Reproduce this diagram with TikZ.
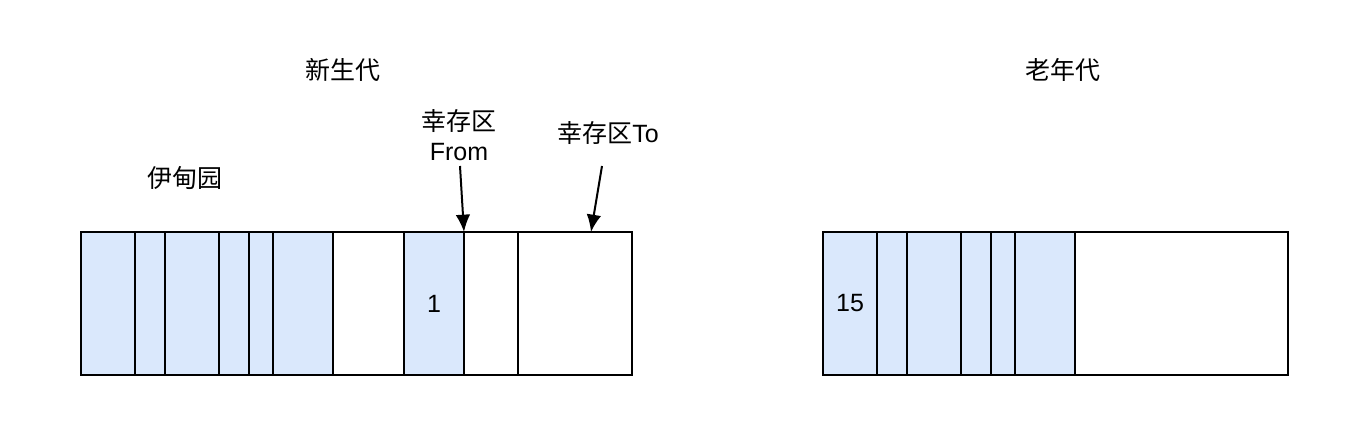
\documentclass[tikz,border=0pt]{standalone}
\usepackage{fontspec}
\setmainfont{Liberation Sans}
\newfontfamily\cjk{Noto Sans CJK SC}
\usetikzlibrary{arrows.meta}
\usetikzlibrary{positioning}

% one memory cell of the heap, from x=#2 to x=#3 (pixels)
\newcommand{\memcell}[5]{%
  \node[cell,#4,minimum width={(#3-#2)*0.75pt}] (#1) at ({(#2+#3)/2},303.5) {#5};}

\begin{document}
\begin{tikzpicture}[
	x=0.75pt, y=-0.75pt,
	> = {Latex[length=13pt,width=11pt]},
	font=\fontsize{18.75}{22.5}\selectfont,
	cell/.style = {draw, line width=1.5pt, inner sep=0pt, outer sep=0pt, minimum height=107.25pt},
	used/.style = {fill=usedblue},
	free/.style = {fill=white},
	lbl/.style = {align=center, inner sep=2pt}
	]
	\definecolor{usedblue}{HTML}{DAE8FC}
	\useasboundingbox (0,0) rectangle (1353,428);

	% young generation
	\memcell{e1}{81}{135}{used}{}
	\memcell{e2}{135}{165}{used}{}
	\memcell{e3}{165}{219}{used}{}
	\memcell{e4}{219}{249}{used}{}
	\memcell{e5}{249}{273}{used}{}
	\memcell{e6}{273}{333}{used}{}
	\memcell{e7}{333}{404}{free}{}
	\memcell{from}{404}{464}{used}{1}
	\memcell{gap}{464}{518}{free}{}
	\memcell{to}{518}{632}{free}{}

	% old generation
	\memcell{o1}{823}{877}{used}{15}
	\memcell{o2}{877}{907}{used}{}
	\memcell{o3}{907}{961}{used}{}
	\memcell{o4}{961}{991}{used}{}
	\memcell{o5}{991}{1015}{used}{}
	\memcell{o6}{1015}{1075}{used}{}
	\memcell{o7}{1075}{1288}{free}{}

	\node[lbl] (young) at (343,70) {\cjk 新生代};
	\node[lbl] (old) at (1063,70) {\cjk 老年代};
	\node[lbl] (eden) at (185,178) {\cjk 伊甸园};
	\node[lbl] (fromlbl) at (459,135) {{\cjk 幸存区}\\From};
	\node[lbl] (tolbl) at (608,133) {{\cjk 幸存区}To};

	\coordinate (fromstart) at (460,166);
	\coordinate (tostart) at (602,166);
	\coordinate (toend) at (591,232);

	\draw[->,line width=1.5pt] (fromstart) -- (from.north east);
	\draw[->,line width=1.5pt] (tostart) -- (toend);

\end{tikzpicture}
\end{document}
